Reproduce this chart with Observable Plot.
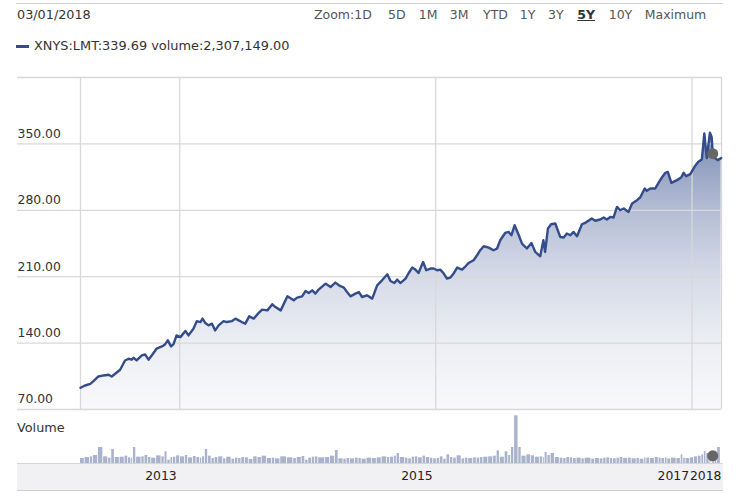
<!DOCTYPE html>
<html><head><meta charset="utf-8">
<script src="https://cdn.jsdelivr.net/npm/d3@7"></script>
<script src="https://cdn.jsdelivr.net/npm/@observablehq/plot@0.6"></script>
<style>
body{margin:0;background:#fff;font-family:"DejaVu Sans",Verdana,sans-serif;}
#wrap{position:relative;width:736px;height:503px;overflow:hidden;background:#fff;}
.abs{position:absolute;white-space:nowrap;line-height:16px;}
.zb{color:#555;font-size:12.5px;top:7px;}
.zb.sel{color:#333;font-weight:bold;text-decoration:underline;}
</style></head><body><div id="wrap">
<div class="abs" style="left:16px;top:3px;width:707px;height:0;border-top:1px solid #cfcfcf;"></div>
<div class="abs" id="hdate" style="left:17px;top:7px;font-size:12.8px;color:#333;"></div>
<div id="zoomrow"></div>
<div class="abs" style="left:16px;top:44.5px;width:13px;height:3px;background:#344d8a;"></div>
<div class="abs" id="legend" style="left:34px;top:38px;font-size:12.9px;color:#333;"></div>
<div class="abs" id="price" style="left:0;top:60px;"></div>
<div class="abs" style="left:17px;top:463px;width:706px;height:26px;background:#f1f1f4;border-top:1px solid #d6d6d6;border-bottom:1px solid #d0d0d0;"></div>
<div class="abs" style="left:17px;top:420px;font-size:12.8px;color:#333;">Volume</div>
<div class="abs" id="vol" style="left:0;top:410px;"></div>
</div>
<script>
// ---- data ----
const headerDate = "03/01/2018";
const legendText = "XNYS:LMT:339.69 volume:2,307,149.00";
const zoomLabels = ["Zoom:1D","5D","1M","3M","YTD","1Y","3Y","5Y","10Y","Maximum"];
const zoomSelected = "5Y";

const dates = [
"2013-03-24","2013-04-06","2013-04-21","2013-04-30","2013-05-14","2013-05-29","2013-06-12","2013-06-21","2013-07-01","2013-07-15",
"2013-07-29","2013-08-08","2013-08-17","2013-08-22","2013-08-31","2013-09-15","2013-09-24","2013-10-04","2013-10-13","2013-10-27",
"2013-11-11","2013-11-20","2013-11-28","2013-12-07","2013-12-14","2013-12-23","2014-01-03","2014-01-17","2014-01-26","2014-02-09",
"2014-02-19","2014-03-01","2014-03-07","2014-03-15","2014-03-24","2014-04-03","2014-04-12","2014-04-22","2014-05-06","2014-05-15",
"2014-05-30","2014-06-09","2014-06-18","2014-06-27","2014-07-07","2014-07-18","2014-07-31","2014-08-12","2014-08-24","2014-09-08",
"2014-09-22","2014-10-01","2014-10-16","2014-11-04","2014-11-22","2014-12-02","2014-12-16","2014-12-26","2015-01-04","2015-01-14",
"2015-01-23","2015-02-01","2015-02-21","2015-03-07","2015-03-21","2015-03-31","2015-04-14","2015-04-23","2015-05-03","2015-05-17",
"2015-05-27","2015-06-05","2015-06-19","2015-07-04","2015-07-18","2015-08-01","2015-08-16","2015-08-25","2015-09-05","2015-09-13",
"2015-09-22","2015-10-07","2015-10-16","2015-10-26","2015-11-04","2015-11-13","2015-11-26","2015-12-05","2015-12-17","2015-12-26",
"2016-01-05","2016-01-14","2016-01-24","2016-02-02","2016-02-12","2016-02-21","2016-03-02","2016-03-16","2016-03-26","2016-04-04",
"2016-04-18","2016-04-28","2016-05-07","2016-05-17","2016-05-31","2016-06-14","2016-06-24","2016-07-03","2016-07-17","2016-07-27",
"2016-08-04","2016-08-13","2016-08-25","2016-09-03","2016-09-17","2016-09-30","2016-10-11","2016-10-25","2016-11-03","2016-11-08",
"2016-11-16","2016-11-25","2016-12-07","2016-12-21","2016-12-31","2017-01-09","2017-01-19","2017-01-28","2017-02-07","2017-02-21",
"2017-03-02","2017-03-21","2017-03-31","2017-04-14","2017-04-24","2017-05-03","2017-05-13","2017-05-22","2017-06-01","2017-06-10",
"2017-06-20","2017-07-04","2017-07-14","2017-07-28","2017-08-06","2017-08-19","2017-08-25","2017-09-04","2017-09-18","2017-09-29",
"2017-10-07","2017-10-17","2017-10-24","2017-11-03","2017-11-19","2017-12-01","2017-12-08","2017-12-15","2017-12-27","2018-01-08",
"2018-01-19","2018-01-29","2018-02-05","2018-02-12","2018-02-21","2018-02-26","2018-03-01","2018-03-08","2018-03-15","2018-03-25"
];
const prices = [
92.9,95.3,97.1,99.9,104.8,105.9,106.6,104.8,107.7,111.9,
121.7,123.5,122.5,124.6,121.7,127.0,128.1,122.5,127.0,134.1,
136.5,138.6,142.9,136.5,138.6,148.1,146.3,152.7,148.1,155.2,
163.2,162.2,165.8,161.1,158.7,160.5,153.4,158.7,163.2,162.2,
163.2,165.8,164.0,162.2,160.5,168.2,165.8,171.0,175.3,174.5,
180.9,178.0,174.5,189.3,185.1,187.9,189.3,194.9,192.8,195.6,
192.2,196.4,202.7,199.1,203.8,200.9,198.5,193.8,189.3,192.2,
193.8,188.6,190.4,186.9,200.9,206.2,212.5,205.5,203.3,206.9,
203.3,208.0,213.9,219.6,217.5,213.9,225.5,216.8,218.6,218.6,
216.8,217.5,213.3,208.0,209.1,213.3,219.6,217.5,221.0,224.5,
227.3,232.6,237.9,242.1,240.7,237.9,239.7,248.4,256.1,257.2,
253.7,264.3,253.7,244.9,239.7,245.6,236.1,231.5,248.4,236.1,
260.8,265.3,266.1,251.9,251.3,255.5,253.7,257.2,252.7,265.3,
266.7,271.3,269.0,270.3,272.4,270.3,273.0,272.4,283.6,280.1,
281.9,278.3,287.2,290.7,293.5,303.0,300.5,303.0,303.0,310.0,
314.6,319.5,320.5,308.9,311.8,314.6,319.5,316.0,318.1,325.8,
331.1,333.6,361.1,335.0,361.7,357.0,339.69,335.0,332.9,335.0
];
// volume in millions of shares
const volumes = [
1.5,1.8,2.0,2.4,4.8,2.0,1.6,4.2,1.8,1.9,
2.2,1.7,1.6,4.8,1.9,2.0,2.4,1.8,1.6,2.3,
2.0,3.5,1.0,1.8,1.9,2.3,2.0,2.4,1.7,2.1,
1.8,1.6,2.0,4.2,2.2,1.5,1.8,2.0,1.4,1.9,
1.3,1.6,1.5,1.8,1.7,1.2,2.0,1.8,2.2,1.5,
1.6,1.4,2.0,1.7,1.5,1.8,2.1,1.0,1.6,1.9,
2.0,1.7,1.8,2.2,3.9,1.4,1.3,1.5,1.4,1.6,
1.5,1.3,1.6,1.5,1.7,2.0,1.8,1.9,2.2,3.0,
1.8,1.6,1.4,1.9,2.0,1.7,2.2,1.8,1.6,1.4,
1.5,2.0,1.3,2.6,1.8,1.6,2.3,1.4,1.6,1.5,
1.7,1.6,1.8,1.9,2.0,2.2,3.8,1.9,3.5,2.4,
4.8,14.3,4.8,2.2,2.6,2.3,1.9,2.0,1.8,3.3,
2.4,3.0,1.8,1.6,1.5,1.8,1.7,1.5,1.6,1.4,
1.6,1.3,1.5,1.4,1.6,1.7,1.5,1.4,1.6,1.8,
1.5,1.6,1.4,1.5,1.3,1.7,1.6,1.5,1.8,1.6,
1.5,1.7,1.4,1.6,1.5,2.6,1.6,1.5,1.7,2.0,
2.2,2.6,3.6,3.0,3.3,3.9,2.31,3.6,4.8,4.2
];
const hoverDate = "2018-03-01";
const hoverPrice = 339.69;
const hoverVolume = 2.307149;

const xDomain = ["2013-03-24","2018-03-26"];
const yDomain = [70, 420];
const yTicks = [70, 140, 210, 280, 350];
const xGridDates = ["2014-01-01","2016-01-01","2018-01-01"];
const xTickDates = ["2014-01-01","2016-01-01","2018-01-01"];
const xTickLabels = ["2013","2015","2017"];
const xEndLabel = "2018";

// ---- header ----
document.getElementById("hdate").textContent = headerDate;
document.getElementById("legend").textContent = legendText;
const zoomX = [314,388,418.7,449.7,483,519.7,548,577.3,608.7,644.7];
const zr = document.getElementById("zoomrow");
zoomLabels.forEach((t,i)=>{
  const s=document.createElement("div");
  s.className="abs zb"+(t===zoomSelected?" sel":"");
  s.style.left=zoomX[i]+"px";
  s.textContent=t;
  zr.appendChild(s);
});

// ---- tables ----
const P = d3.utcParse("%Y-%m-%d");
const data = dates.map((d,i)=>({date:P(d), price:prices[i]}));
const vdata = dates.map((d,i)=>({date:P(d), next:P(dates[i+1]||xDomain[1]), vol:volumes[i]}));
const hover = [{date:P(hoverDate), price:hoverPrice, vol:hoverVolume}];
const xd = xDomain.map(P);
const xr = [80, 721];
const font = {fontFamily:"DejaVu Sans, Verdana, sans-serif", background:"transparent", overflow:"visible"};

// ---- price chart ----
const priceSvg = Plot.plot({
  width:736, height:360,
  marginTop:17, marginBottom:11, marginLeft:17, marginRight:15,
  style:font,
  x:{type:"utc", domain:xd, range:xr, axis:null},
  y:{domain:yDomain, axis:null},
  marks:[
    Plot.areaY(data,{x:"date", y1:yDomain[0], y2:"price", fill:"url(#pgrad)"}),
    Plot.ruleY(yTicks.concat([yDomain[1]]),{stroke:"#d8d8d8", strokeWidth:1.3}),
    Plot.ruleX(xGridDates.map(P).concat(xd),{stroke:"#d8d8d8", strokeWidth:1.3}),
    Plot.lineY(data,{x:"date", y:"price", stroke:"#344d8a", strokeWidth:2.4, strokeLinejoin:"round"}),
    Plot.dot(hover,{x:"date", y:"price", r:5.5, fill:"#666", stroke:null}),
    Plot.text(yTicks,{y:d=>d, text:d=>d.toFixed(2), frameAnchor:"left", textAnchor:"start", dy:-10, fontSize:12.4, fill:"#333"})
  ]
});
const ns="http://www.w3.org/2000/svg";
const defs=document.createElementNS(ns,"defs");
defs.innerHTML=`<linearGradient id="pgrad" gradientUnits="userSpaceOnUse" x1="0" y1="17" x2="0" y2="349">
<stop offset="0" stop-color="rgb(112,129,171)"/>
<stop offset="0.17" stop-color="rgb(130,146,183)"/>
<stop offset="0.25" stop-color="rgb(144,158,192)"/>
<stop offset="0.40" stop-color="rgb(180,189,212)"/>
<stop offset="0.60" stop-color="rgb(214,219,232)"/>
<stop offset="0.80" stop-color="rgb(236,238,244)"/>
<stop offset="1" stop-color="rgb(249,249,251)"/>
</linearGradient>`;
priceSvg.prepend(defs);
document.getElementById("price").appendChild(priceSvg);

// ---- volume chart ----
const volSvg = Plot.plot({
  width:736, height:82,
  marginTop:3, marginBottom:29, marginLeft:17, marginRight:15,
  style:font,
  x:{type:"utc", domain:xd, range:xr, axis:null},
  y:{domain:[0,15], axis:null},
  marks:[
    Plot.rectY(vdata,{x1:"date", x2:"next", y:"vol", fill:"#a9b3cc", insetRight:0.8}),
    Plot.dot(hover,{x:"date", y:"vol", r:5.5, fill:"#666", stroke:null}),
    Plot.text(xTickDates.map((d,i)=>({date:P(d), label:xTickLabels[i]})),
      {x:"date", text:"label", frameAnchor:"bottom", dy:13, dx:-3, textAnchor:"end", lineAnchor:"middle", fontSize:12.4, fill:"#222"}),
    Plot.text([{date:xd[1], label:xEndLabel}],
      {x:"date", text:"label", frameAnchor:"bottom", dy:13, dx:0, textAnchor:"end", lineAnchor:"middle", fontSize:12.4, fill:"#222"})
  ]
});
document.getElementById("vol").appendChild(volSvg);
</script>
</body></html>
